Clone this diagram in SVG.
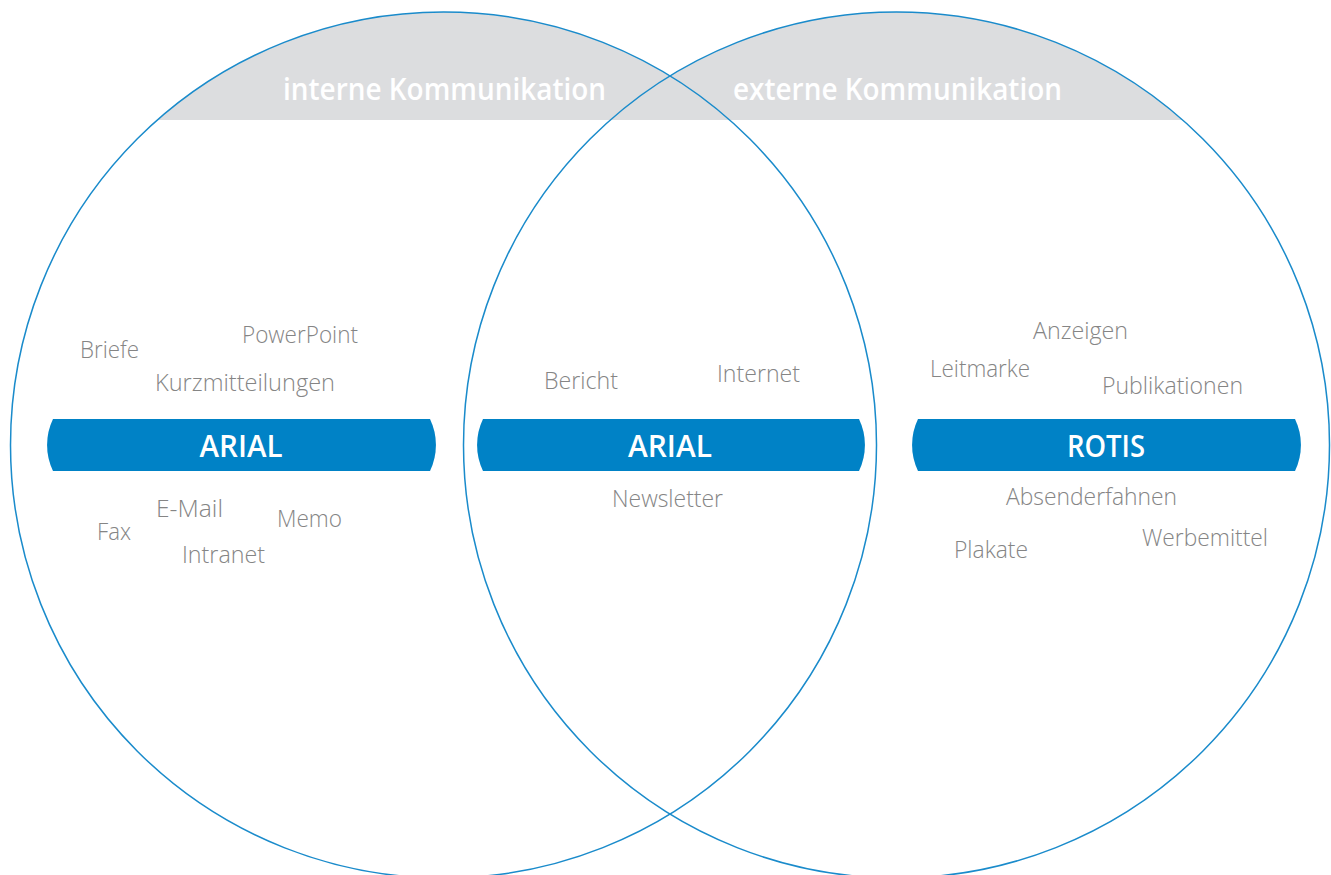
<svg xmlns="http://www.w3.org/2000/svg" width="1331" height="875" viewBox="0 0 1331 875">
<style>
.ring{fill:none;stroke:#1a8bcb;stroke-width:1.5}
.band{fill:#dcdddf}
.bar{fill:#0082c6}
.head{font-family:"Open Sans","Liberation Sans",sans-serif;font-weight:600;font-size:31px;fill:#ffffff}
.bt{font-family:"Open Sans","Liberation Sans",sans-serif;font-weight:600;font-size:30px;fill:#ffffff;text-anchor:middle}
.lb{font-family:"Open Sans","Liberation Sans",sans-serif;font-weight:300;font-size:24px;fill:#858585}
</style>
<defs>
<clipPath id="union">
<circle cx="443.5" cy="445" r="433"/>
<circle cx="896.5" cy="445" r="433"/>
</clipPath>
</defs>
<rect width="1331" height="875" fill="#ffffff"/>
<g id="header">
<rect class="band" x="0" y="0" width="1331" height="120" clip-path="url(#union)"/>
<text class="head" x="283" y="100" textLength="323" lengthAdjust="spacingAndGlyphs">interne Kommunikation</text>
<text class="head" x="733" y="100" textLength="329" lengthAdjust="spacingAndGlyphs">externe Kommunikation</text>
</g>
<g id="circle-left"><circle class="ring" cx="443.5" cy="445" r="433"/></g>
<g id="circle-right"><circle class="ring" cx="896.5" cy="445" r="433"/></g>
<g id="bar-left">
<path class="bar" d="M53,419 L430,419 A60,60 0 0 1 430,471 L53,471 A60,60 0 0 1 53,419 Z"/>
<text class="bt" x="241" y="457" textLength="83" lengthAdjust="spacingAndGlyphs">ARIAL</text>
</g>
<g id="bar-middle">
<path class="bar" d="M483,419 L859,419 A60,60 0 0 1 859,471 L483,471 A60,60 0 0 1 483,419 Z"/>
<text class="bt" x="670" y="457" textLength="84" lengthAdjust="spacingAndGlyphs">ARIAL</text>
</g>
<g id="bar-right">
<path class="bar" d="M918,419 L1295,419 A60,60 0 0 1 1295,471 L918,471 A60,60 0 0 1 918,419 Z"/>
<text class="bt" x="1106" y="457" textLength="78" lengthAdjust="spacingAndGlyphs">ROTIS</text>
</g>
<g id="labels-left">
<text class="lb" x="80" y="358" textLength="59" lengthAdjust="spacingAndGlyphs">Briefe</text>
<text class="lb" x="242" y="343" textLength="116" lengthAdjust="spacingAndGlyphs">PowerPoint</text>
<text class="lb" x="155" y="391" textLength="180" lengthAdjust="spacingAndGlyphs">Kurzmitteilungen</text>
<text class="lb" x="156" y="517" textLength="67" lengthAdjust="spacingAndGlyphs">E-Mail</text>
<text class="lb" x="97" y="540" textLength="34" lengthAdjust="spacingAndGlyphs">Fax</text>
<text class="lb" x="277" y="527" textLength="65" lengthAdjust="spacingAndGlyphs">Memo</text>
<text class="lb" x="182" y="563" textLength="83" lengthAdjust="spacingAndGlyphs">Intranet</text>
</g>
<g id="labels-middle">
<text class="lb" x="544" y="389" textLength="74" lengthAdjust="spacingAndGlyphs">Bericht</text>
<text class="lb" x="717" y="382" textLength="83" lengthAdjust="spacingAndGlyphs">Internet</text>
<text class="lb" x="612" y="507" textLength="111" lengthAdjust="spacingAndGlyphs">Newsletter</text>
</g>
<g id="labels-right">
<text class="lb" x="1033" y="339" textLength="95" lengthAdjust="spacingAndGlyphs">Anzeigen</text>
<text class="lb" x="930" y="377" textLength="100" lengthAdjust="spacingAndGlyphs">Leitmarke</text>
<text class="lb" x="1102" y="394" textLength="141" lengthAdjust="spacingAndGlyphs">Publikationen</text>
<text class="lb" x="1006" y="505" textLength="171" lengthAdjust="spacingAndGlyphs">Absenderfahnen</text>
<text class="lb" x="1142" y="546" textLength="126" lengthAdjust="spacingAndGlyphs">Werbemittel</text>
<text class="lb" x="954" y="558" textLength="74" lengthAdjust="spacingAndGlyphs">Plakate</text>
</g>
</svg>
